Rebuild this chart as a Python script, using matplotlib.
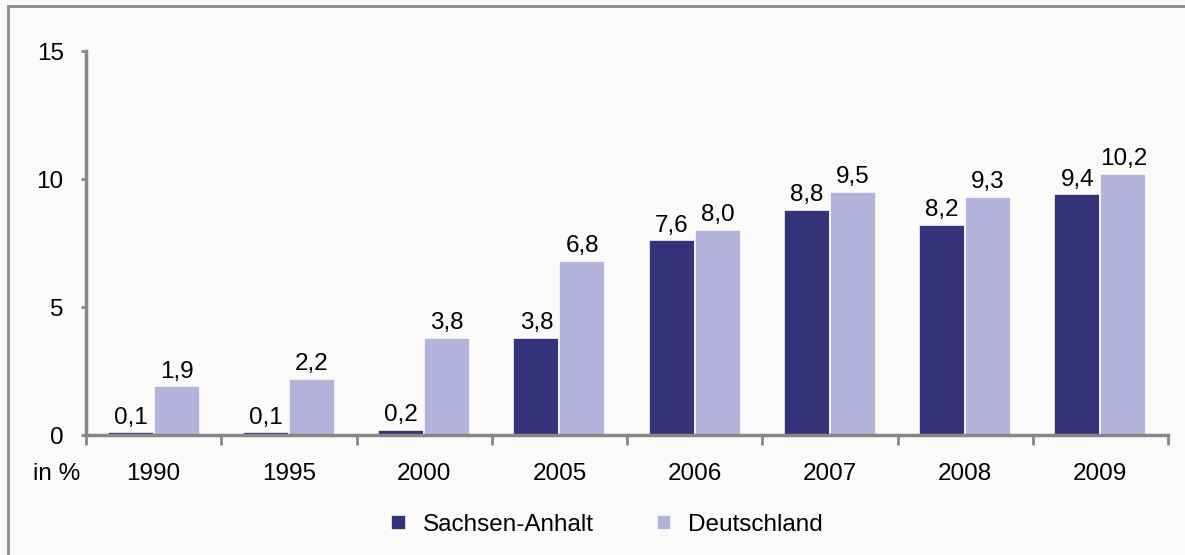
import numpy as np
import matplotlib.pyplot as plt
from matplotlib.patches import Rectangle

plt.rcParams['font.family'] = ['Liberation Sans', 'DejaVu Sans']

years = ['1990', '1995', '2000', '2005', '2006', '2007', '2008', '2009']
sachsen_anhalt = [0.1, 0.1, 0.2, 3.8, 7.6, 8.8, 8.2, 9.4]
deutschland = [1.9, 2.2, 3.8, 6.8, 8.0, 9.5, 9.3, 10.2]

dark = '#333379'
light = '#b3b3db'
grey = '#878787'
bg = '#fbfaf8'
fs = 17.5

fig = plt.figure(figsize=(11.85, 5.55), dpi=100, facecolor=bg)
# outer frame
fig.patches.append(Rectangle((8 / 1185, -0.1), 1.1, 1 - 6 / 555 + 0.1,
                             transform=fig.transFigure, fill=False,
                             edgecolor='#8c8c8c', linewidth=2))

ax = fig.add_axes([86 / 1185, 1 - 435 / 555, (1168 - 86) / 1185, (435 - 51) / 555])
ax.set_facecolor(bg)

x = np.arange(len(years))
w = 0.34
b1 = ax.bar(x - 0.17, sachsen_anhalt, w, color=dark, edgecolor=bg, linewidth=1.2)
b2 = ax.bar(x + 0.17, deutschland, w, color=light, edgecolor=bg, linewidth=1.2)

def fmt(v):
    return f'{v:.1f}'.replace('.', ',')

for bars, vals in ((b1, sachsen_anhalt), (b2, deutschland)):
    for r, v in zip(bars, vals):
        ax.text(r.get_x() + r.get_width() / 2, v + 0.15, fmt(v),
                ha='center', va='bottom', fontsize=fs)

ax.set_xlim(-0.5, len(years) - 0.5)
ax.set_ylim(0, 15)
ax.set_yticks([0, 5, 10, 15])
ax.set_yticklabels(['0', '5', '10', '15'], fontsize=fs)
ax.set_xticks(np.arange(len(years) + 1) - 0.5)
ax.set_xticklabels([])
ax.set_xticks(x, minor=True)
ax.set_xticklabels(years, minor=True, fontsize=fs)
ax.tick_params(axis='x', which='minor', length=0, pad=20)
ax.tick_params(axis='x', which='major', length=7, width=2, color=grey)
ax.tick_params(axis='y', length=3.6, width=2, color=grey, pad=12.5)

for s in ('top', 'right'):
    ax.spines[s].set_visible(False)
for s in ('left', 'bottom'):
    ax.spines[s].set_color(grey)
    ax.spines[s].set_linewidth(2.5)

fig.text(57 / 1185, 1 - 474 / 555, 'in %', ha='center', va='center', fontsize=fs)

leg = fig.legend([b1, b2], ['Sachsen-Anhalt', 'Deutschland'], loc='center',
                 bbox_to_anchor=(607 / 1185, 1 - 525 / 555), ncol=2, frameon=False,
                 fontsize=fs, handlelength=0.6, handleheight=0.6,
                 handletextpad=0.7, columnspacing=2.6)

fig.savefig('out.png', dpi=100, facecolor=bg)
